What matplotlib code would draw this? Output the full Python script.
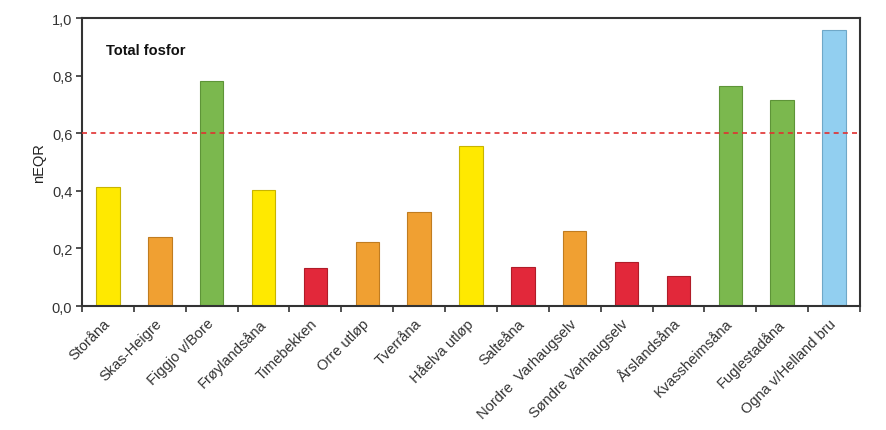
import matplotlib
matplotlib.use("Agg")
import matplotlib.pyplot as plt
import numpy as np
from matplotlib.ticker import FuncFormatter

stations = [
    "Storåna", "Skas-Heigre", "Figgjo v/Bore", "Frøylandsåna", "Timebekken",
    "Orre utløp", "Tverråna", "Håelva utløp", "Salteåna", "Nordre  Varhaugselv",
    "Søndre Varhaugselv", "Årslandsåna", "Kvassheimsåna", "Fuglestadåna",
    "Ogna v/Helland bru",
]
values = [0.412, 0.238, 0.782, 0.403, 0.131, 0.223, 0.325, 0.557, 0.134,
          0.259, 0.154, 0.104, 0.764, 0.714, 0.959]
classes = ["mod", "poor", "good", "mod", "bad", "poor", "poor", "mod", "bad",
           "poor", "bad", "bad", "good", "good", "high"]
threshold = 0.6

palette = {
    "high": ("#92CFF0", "#6FA8C8"),
    "good": ("#7BB84E", "#5E9438"),
    "mod": ("#FFE900", "#C8B400"),
    "poor": ("#F0A032", "#C07C20"),
    "bad": ("#E2283A", "#B01C28"),
}

plt.rcParams["font.family"] = ["Liberation Sans", "DejaVu Sans"]

fig = plt.figure(figsize=(8.86, 4.31), dpi=100)
ax = fig.add_axes([0.0926, 0.2877, 0.878, 0.668])

x = np.arange(len(stations))
fc = [palette[c][0] for c in classes]
ec = [palette[c][1] for c in classes]
ax.bar(x, values, width=0.45, color=fc, edgecolor=ec, linewidth=0.8, zorder=2)
ax.axhline(threshold, color="#E03030", linestyle=(0, (3, 2.5)), linewidth=1.2, zorder=3)

ax.set_xlim(-0.5, len(stations) - 0.5)
ax.set_ylim(0, 1.0)
ax.set_yticks(np.arange(0, 1.01, 0.2))
ax.yaxis.set_major_formatter(FuncFormatter(lambda v, p: f"{v:.1f}".replace(".", ",")))
ax.tick_params(axis="y", labelsize=10.5, colors="#333333", length=4, width=1.2,
               direction="out", pad=3)
ax.set_ylabel("nEQR", fontsize=10.5, color="#222222")

ax.set_xticks(np.arange(-0.5, len(stations), 1.0))
ax.set_xticklabels([])
ax.tick_params(axis="x", length=4, width=1.2, direction="out", colors="#333333")
for xi, name in zip(x, stations):
    ax.text(xi - 0.1, -0.035, name, rotation=45, ha="right", va="top",
            rotation_mode="anchor", fontsize=10.5, color="#333333",
            transform=ax.get_xaxis_transform())

for s in ax.spines.values():
    s.set_linewidth(1.5)
    s.set_color("#333333")

ax.text(0.031, 0.89, "Total fosfor", transform=ax.transAxes, fontsize=10.5,
        fontweight="bold", ha="left", va="center", color="#111111")

fig.savefig("out.png", dpi=100)
